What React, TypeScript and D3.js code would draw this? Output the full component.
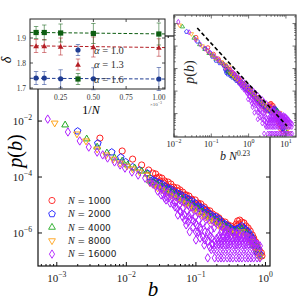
import * as d3 from "d3";

type Pt = [number, number];

const SERIF = "'Liberation Serif', 'DejaVu Serif', serif";
const SANS = "'DejaVu Sans', sans-serif";

// system sizes, colours and marker shapes of the main panel
const sizes = [1000, 2000, 4000, 8000, 16000];
const sizeColors = ["#ff2020", "#2424ff", "#22aa22", "#ffa31a", "#b020ff"];
const sizeShapes = ["circle", "pentagon", "triUp", "triDown", "thinDiamond"];

// main panel: [log10 b, log10 p(b)]
const pN1000: Pt[] = [
  [-2.38, -2.61], [-2.06, -3.07], [-1.91, -3.36], [-1.78, -3.57], [-1.68, -3.75],
  [-1.62, -3.86], [-1.58, -3.89], [-1.53, -4.0], [-1.49, -4.04], [-1.45, -4.14], [-1.4, -4.18],
  [-1.36, -4.25], [-1.32, -4.36], [-1.27, -4.39], [-1.23, -4.46], [-1.19, -4.54], [-1.14, -4.64],
  [-1.1, -4.68], [-1.06, -4.79], [-1.01, -4.82], [-0.97, -4.93], [-0.93, -4.96], [-0.88, -5.07],
  [-0.84, -5.18], [-0.8, -5.21], [-0.76, -5.32], [-0.71, -5.39], [-0.67, -5.46], [-0.63, -5.57],
  [-0.58, -5.61], [-0.54, -5.71], [-0.5, -5.75], [-0.45, -5.82], [-0.42, -5.68], [-0.4, -5.57],
  [-0.37, -5.54], [-0.34, -5.61], [-0.31, -5.64], [-0.28, -5.75], [-0.25, -5.82], [-0.22, -5.93],
  [-0.19, -6.07], [-0.17, -6.18], [-0.14, -6.32], [-0.12, -6.46], [-0.09, -6.61], [-0.06, -6.71],
  [-0.05, -6.82],
  [-1.52, -4.14], [-1.42, -4.32], [-1.32, -4.46], [-1.22, -4.61], [-1.11, -4.79], [-1.01, -4.96],
  [-0.91, -5.11], [-0.81, -5.29], [-0.71, -5.5], [-0.61, -5.68], [-0.51, -5.86], [-0.41, -5.75],
  [-0.31, -5.82], [-0.22, -6.14], [-0.15, -6.5], [-0.18, -6.39],
  [-1.56, -4.04], [-1.46, -4.21], [-1.36, -4.36], [-1.26, -4.5], [-1.16, -4.64], [-1.06, -4.82],
  [-0.96, -5.0], [-0.86, -5.18], [-0.76, -5.39], [-0.65, -5.57], [-0.55, -5.75], [-0.45, -5.89],
  [-0.38, -5.68], [-0.28, -5.93], [-0.19, -6.25], [-0.11, -6.71]
];

const pN2000: Pt[] = [
  [-2.7, -2.36], [-2.41, -2.79], [-2.21, -3.11], [-2.08, -3.29], [-2.01, -3.46], [-1.91, -3.64],
  [-1.81, -3.75], [-1.7, -3.86],
  [-1.66, -4.04], [-1.62, -4.11], [-1.58, -4.14], [-1.53, -4.21], [-1.49, -4.25], [-1.45, -4.32],
  [-1.4, -4.39], [-1.36, -4.43], [-1.32, -4.5], [-1.27, -4.57], [-1.23, -4.61], [-1.19, -4.68],
  [-1.14, -4.75], [-1.1, -4.79], [-1.06, -4.86], [-1.01, -4.93], [-0.97, -5.04], [-0.93, -5.07],
  [-0.88, -5.14], [-0.84, -5.25], [-0.8, -5.32], [-0.76, -5.39], [-0.71, -5.43], [-0.67, -5.5],
  [-0.63, -5.61], [-0.58, -5.68], [-0.54, -5.75], [-0.5, -5.82], [-0.45, -5.89], [-0.41, -5.86],
  [-0.37, -5.79], [-0.34, -5.75], [-0.31, -5.82], [-0.28, -5.89], [-0.25, -5.96], [-0.22, -6.07],
  [-0.19, -6.18], [-0.17, -6.32], [-0.14, -6.46], [-0.11, -6.61], [-0.08, -6.75],
  [-1.59, -4.25], [-1.47, -4.39], [-1.36, -4.54], [-1.24, -4.71], [-1.13, -4.89], [-1.01, -5.07],
  [-0.9, -5.25], [-0.78, -5.43], [-0.67, -5.61], [-0.55, -5.82], [-0.44, -5.96], [-0.32, -5.93],
  [-0.21, -6.25], [-0.12, -6.68],
  [-1.63, -4.18], [-1.52, -4.32], [-1.4, -4.46], [-1.29, -4.64], [-1.17, -4.82], [-1.06, -4.96],
  [-0.94, -5.14], [-0.83, -5.36], [-0.71, -5.54], [-0.6, -5.71], [-0.48, -5.89], [-0.38, -5.82],
  [-0.27, -6.04], [-0.18, -6.43]
];

const pN4000: Pt[] = [
  [-2.88, -2.14], [-2.57, -2.64], [-2.42, -2.93], [-2.28, -3.14], [-2.17, -3.32], [-2.06, -3.43],
  [-1.98, -3.57], [-1.88, -3.68], [-1.78, -3.79], [-1.7, -3.89],
  [-1.66, -4.14], [-1.6, -4.21], [-1.55, -4.29], [-1.49, -4.36], [-1.43, -4.46], [-1.37, -4.54],
  [-1.32, -4.61], [-1.26, -4.71], [-1.2, -4.79], [-1.14, -4.89], [-1.09, -4.96], [-1.03, -5.07],
  [-0.97, -5.14], [-0.91, -5.25], [-0.86, -5.36], [-0.8, -5.43], [-0.74, -5.54], [-0.68, -5.61],
  [-0.63, -5.71], [-0.57, -5.79], [-0.51, -5.86], [-0.45, -5.96], [-0.4, -5.93], [-0.34, -5.86],
  [-0.28, -6.0], [-0.22, -6.18], [-0.17, -6.43], [-0.12, -6.61], [-0.08, -6.82], [-0.19, -6.29],
  [-0.11, -6.5]
];

const pN8000: Pt[] = [
  [-3.03, -2.07], [-2.71, -2.46], [-2.58, -2.71], [-2.42, -3.0], [-2.29, -3.21], [-2.19, -3.36],
  [-2.09, -3.5], [-1.99, -3.61], [-1.91, -3.71], [-1.81, -3.82], [-1.7, -3.93],
  [-1.66, -4.21], [-1.6, -4.29], [-1.55, -4.39], [-1.49, -4.46], [-1.43, -4.54], [-1.37, -4.64],
  [-1.32, -4.71], [-1.26, -4.79], [-1.2, -4.89], [-1.14, -4.96], [-1.09, -5.07], [-1.03, -5.14],
  [-0.97, -5.25], [-0.91, -5.36], [-0.86, -5.43], [-0.8, -5.54], [-0.74, -5.61], [-0.68, -5.71],
  [-0.63, -5.79], [-0.57, -5.89], [-0.51, -5.96], [-0.45, -6.04], [-0.4, -6.04], [-0.34, -5.96],
  [-0.28, -6.11], [-0.22, -6.29], [-0.17, -6.5], [-0.12, -6.68], [-0.08, -6.86]
];

const pN16000: Pt[] = [
  [-3.13, -1.93], [-2.84, -2.39], [-2.67, -2.71], [-2.54, -2.93], [-2.42, -3.11], [-2.34, -3.21],
  [-2.27, -3.32], [-2.17, -3.46], [-2.09, -3.57], [-2.02, -3.68], [-1.92, -3.82], [-1.83, -3.93],
  [-1.73, -4.04], [-1.66, -4.18],
  [-1.62, -4.25], [-1.58, -4.32], [-1.52, -4.39], [-1.46, -4.46], [-1.4, -4.54], [-1.35, -4.64],
  [-1.29, -4.71], [-1.23, -4.82], [-1.17, -4.89], [-1.11, -5.0], [-1.06, -5.07], [-1.0, -5.18],
  [-0.94, -5.29], [-0.88, -5.36], [-0.83, -5.46], [-0.77, -5.54], [-0.71, -5.64], [-0.65, -5.71],
  [-0.6, -5.82], [-0.54, -5.89], [-0.48, -5.96], [-0.42, -6.04], [-0.37, -6.04], [-0.31, -6.07],
  [-0.25, -6.14], [-0.19, -6.25], [-0.14, -6.36], [-0.08, -6.46]
];

// the wide low-count spread of N = 16000
const pN16000Spread: Pt[] = [
  [-1.55, -4.5], [-1.47, -4.61], [-1.42, -4.71], [-1.36, -4.79], [-1.3, -4.89], [-1.24, -5.0],
  [-1.19, -5.11], [-1.13, -5.21], [-1.07, -5.32], [-1.01, -5.43], [-0.96, -5.54], [-0.9, -5.64],
  [-0.84, -5.75],
  [-1.37, -4.93], [-1.3, -5.07], [-1.23, -5.21], [-1.16, -5.36], [-1.09, -5.5], [-1.01, -5.64],
  [-0.94, -5.82], [-0.87, -5.96], [-0.8, -6.11],
  [-1.19, -5.43], [-1.11, -5.61], [-1.04, -5.79], [-0.97, -5.96], [-0.9, -6.14], [-0.83, -6.29],
  [-0.77, -6.39], [-1.09, -5.96], [-0.94, -6.18], [-0.8, -6.5], [-1.14, -5.71], [-1.0, -6.25],
  [-1.5, -4.64], [-1.45, -4.75], [-1.33, -4.96], [-1.27, -5.11], [-1.22, -5.25], [-1.16, -5.54],
  [-1.1, -5.39], [-1.04, -5.57], [-0.99, -5.71], [-0.93, -5.89], [-0.87, -6.25], [-0.83, -6.0],
  [-0.78, -5.89], [-0.74, -5.82], [-0.77, -6.18], [-1.0, -5.96], [-0.88, -6.43], [-1.26, -5.36],
  [-1.43, -4.82],
  [-0.83, -6.89], [-0.73, -6.89], [-0.68, -6.89], [-0.64, -6.89], [-0.6, -6.89], [-0.55, -6.89],
  [-0.51, -6.89], [-0.47, -6.89], [-0.42, -6.89], [-0.38, -6.89], [-0.34, -6.89], [-0.29, -6.89],
  [-0.25, -6.89], [-0.21, -6.89], [-0.17, -6.89], [-0.12, -6.89], [-0.08, -6.89],
  [-0.78, -6.59], [-0.74, -6.59], [-0.7, -6.59], [-0.65, -6.59], [-0.61, -6.59], [-0.57, -6.59],
  [-0.53, -6.59], [-0.48, -6.59], [-0.44, -6.59], [-0.4, -6.59], [-0.35, -6.59], [-0.31, -6.59],
  [-0.27, -6.59], [-0.22, -6.59], [-0.18, -6.59], [-0.14, -6.59], [-0.09, -6.59],
  [-0.76, -6.41], [-0.71, -6.41], [-0.67, -6.41], [-0.63, -6.41], [-0.58, -6.41], [-0.54, -6.41],
  [-0.5, -6.41], [-0.45, -6.41], [-0.41, -6.41], [-0.37, -6.41], [-0.32, -6.41], [-0.28, -6.41],
  [-0.24, -6.41], [-0.19, -6.41], [-0.15, -6.41], [-0.11, -6.41],
  [-0.73, -6.29], [-0.68, -6.29], [-0.64, -6.29], [-0.6, -6.29], [-0.55, -6.29], [-0.51, -6.29],
  [-0.47, -6.29], [-0.42, -6.29], [-0.38, -6.29], [-0.34, -6.29], [-0.29, -6.29], [-0.25, -6.29],
  [-0.21, -6.29], [-0.17, -6.29],
  [-0.7, -6.19], [-0.65, -6.19], [-0.61, -6.19], [-0.57, -6.19], [-0.53, -6.19], [-0.48, -6.19],
  [-0.44, -6.19], [-0.4, -6.19], [-0.35, -6.19], [-0.31, -6.19], [-0.27, -6.19], [-0.22, -6.19],
  [-0.67, -6.11], [-0.61, -6.11], [-0.55, -6.11], [-0.5, -6.11], [-0.44, -6.11], [-0.38, -6.11],
  [-0.32, -6.11], [-0.27, -6.11],
  [-0.64, -5.99], [-0.58, -5.99], [-0.53, -5.99], [-0.47, -5.99], [-0.41, -5.99],
  [-0.63, -5.89], [-0.57, -5.89]
];

const mainSeries: Pt[][] = [pN1000, pN2000, pN4000, pN8000, pN16000.concat(pN16000Spread)];

// inset top left: delta against 1/N (in units of 1e-3)
const invN = [0.0625, 0.125, 0.25, 0.5, 1.0];
const alphaLabels = ["1.0", "1.3", "1.6"];
const alphaColors = ["#1f3c92", "#b41e24", "#0e5e12"];
const deltaA10 = [1.74, 1.74, 1.737, 1.737, 1.736];
const errA10 = [0.026, 0.026, 0.036, 0.044, 0.046];
const deltaA13 = [1.868, 1.868, 1.866, 1.864, 1.862];
const errA13 = [0.026, 0.026, 0.034, 0.04, 0.035];
const deltaA16 = [1.922, 1.922, 1.92, 1.918, 1.916];
const errA16 = [0.024, 0.03, 0.036, 0.04, 0.044];
const fitIntercept = [1.739, 1.869, 1.9225];
const fitSlope = [-0.003, -0.007, -0.006];
const deltaTicks = [1.7, 1.8, 1.9];
const invNTicks = [0.25, 0.5, 0.75, 1.0];

// inset top right: collapse with b N^0.23
const collapseExp = 0.23;
const collapseFactor = 1.9;
const guideB = [0.042, 10.7];
const guideP = [6.3e-3, 2.8e-7];

function polygon(n: number, r: number, rot: number) {
  const pts = d3.range(n).map(i => {
    const a = rot + (i * 2 * Math.PI) / n;
    return `${(r * Math.cos(a)).toFixed(2)},${(r * Math.sin(a)).toFixed(2)}`;
  });
  return "M" + pts.join("L") + "Z";
}

function markerPath(kind: string, s: number) {
  if (kind === "circle") return d3.symbol(d3.symbolCircle, Math.PI * (3.1 * s) ** 2)() || "";
  if (kind === "pentagon") return polygon(5, 3.5 * s, -Math.PI / 2);
  if (kind === "triUp") return polygon(3, 3.9 * s, -Math.PI / 2);
  if (kind === "triDown") return polygon(3, 3.9 * s, Math.PI / 2);
  return `M0,${-4.2 * s}L${2.6 * s},0L0,${4.2 * s}L${-2.6 * s},0Z`;
}

function Pow({ x, y, e, size, anchor = "middle" }: { x: number; y: number; e: number; size: number; anchor?: string }) {
  return (
    <text x={x} y={y} fontSize={size} textAnchor={anchor} fontFamily={SERIF} fill="#222">
      10<tspan dy={-size * 0.42} fontSize={size * 0.7}>{e < 0 ? "\u2212" + -e : String(e)}</tspan>
    </text>
  );
}

const isDecade = (t: number) => Math.abs(Math.log10(t) - Math.round(Math.log10(t))) < 1e-6;

export default function App() {
  // main axes
  const m = { l: 38, r: 270, t: 36, b: 266 };
  const x = d3.scaleLog().domain([10 ** -3.27, 10 ** 0.065]).range([m.l, m.r]);
  const y = d3.scaleLog().domain([10 ** -7.18, 10 ** 1.04]).range([m.b, m.t]);
  const xTicks = x.ticks();
  const yMajor = [-6, -4, -2, 0];

  // inset 1
  const a = { l: 30, r: 165, t: 19, b: 89 };
  const ax = d3.scaleLinear().domain([0.016, 1.047]).range([a.l, a.r]);
  const ay = d3.scaleLinear().domain([1.696, 1.976]).range([a.b, a.t]);
  const deltas = [deltaA10, deltaA13, deltaA16];
  const errs = [errA10, errA13, errA16];

  // inset 2
  const c = { l: 174, r: 296, t: 15, b: 137 };
  const cx = d3.scaleLog().domain([1e-2, 10 ** 1.27]).range([c.l, c.r]);
  const cy = d3.scaleLog().domain([10 ** -7.04, 10 ** -1.62]).range([c.b, c.t]);
  const cxTicks = cx.ticks();
  const cyTicks = cy.ticks();

  const aMarker = (k: number, px: number, py: number, col: string) => {
    if (k === 0) return <circle cx={px} cy={py} r={2.6} fill={col} />;
    if (k === 1) return <path d={polygon(3, 3.3, -Math.PI / 2)} transform={`translate(${px},${py + 0.6})`} fill={col} />;
    return <rect x={px - 2.6} y={py - 2.6} width={5.2} height={5.2} fill={col} />;
  };

  const errBar = (px: number, y0: number, y1: number, col: string, key: string) => (
    <g key={key} stroke={col} strokeOpacity={0.6} strokeWidth={0.9}>
      <line x1={px} x2={px} y1={y0} y2={y1} />
      <line x1={px - 2.2} x2={px + 2.2} y1={y0} y2={y0} />
      <line x1={px - 2.2} x2={px + 2.2} y1={y1} y2={y1} />
    </g>
  );

  return (
    <svg width={300} height={300} style={{ display: "block", position: "absolute", left: 0, top: 0 }}>
      <defs>
        <clipPath id="clipMain"><rect x={m.l} y={m.t} width={m.r - m.l} height={m.b - m.t} /></clipPath>
        <clipPath id="clipC"><rect x={c.l} y={c.t} width={c.r - c.l} height={c.b - c.t} /></clipPath>
      </defs>
      <rect width={300} height={300} fill="#fff" />

      {/* main data */}
      <g clipPath="url(#clipMain)">
        {mainSeries.map((pts, si) => {
          const d = markerPath(sizeShapes[si], 1);
          return (
            <g key={si} fill="none" stroke={sizeColors[si]} strokeWidth={1}>
              {pts.map(([lb, lp], i) => (
                <path key={i} d={d} transform={`translate(${x(10 ** lb).toFixed(2)},${y(10 ** lp).toFixed(2)})`} />
              ))}
            </g>
          );
        })}
      </g>

      {/* main frame and ticks */}
      <g stroke="#111" strokeWidth={1}>
        {xTicks.map((t, i) => {
          const len = isDecade(t) ? 4 : 2;
          const px = x(t);
          return (
            <g key={i}>
              <line x1={px} x2={px} y1={m.b} y2={m.b - len} />
              <line x1={px} x2={px} y1={m.t} y2={m.t + len} />
            </g>
          );
        })}
        {yMajor.map(e => (
          <g key={e}>
            <line x1={m.l} x2={m.l + 4} y1={y(10 ** e)} y2={y(10 ** e)} />
            <line x1={m.r} x2={m.r - 4} y1={y(10 ** e)} y2={y(10 ** e)} />
          </g>
        ))}
        <rect x={m.l} y={m.t} width={m.r - m.l} height={m.b - m.t} fill="none" strokeWidth={1.2} />
      </g>
      {xTicks.filter(isDecade).map(t => (
        <Pow key={t} x={x(t)} y={282} e={Math.round(Math.log10(t))} size={11} />
      ))}
      {yMajor.filter(e => e < 0).map(e => (
        <Pow key={e} x={32} y={y(10 ** e) + 4} e={e} size={11} anchor="end" />
      ))}
      <text x={153} y={296} fontSize={21} fontStyle="italic" fontFamily={SERIF} textAnchor="middle">b</text>
      <text transform={`translate(22,151) rotate(-90)`} fontSize={20} fontFamily={SERIF} textAnchor="middle">
        <tspan fontStyle="italic">p</tspan>(<tspan fontStyle="italic">b</tspan>)
      </text>

      {/* main legend */}
      {sizes.map((n, i) => {
        const ly = 200.5 + i * 13.4;
        return (
          <g key={n}>
            <path d={markerPath(sizeShapes[i], 1)} transform={`translate(52,${ly})`} fill="none" stroke={sizeColors[i]} strokeWidth={0.9} />
            <text x={68} y={ly + 3.2} fontSize={9} fill="#222">
              <tspan fontFamily={SERIF} fontStyle="italic" fontSize={10}>N</tspan>
              <tspan fontFamily={SANS}> = {n}</tspan>
            </text>
          </g>
        );
      })}

      {/* inset 1 */}
      <rect x={a.l} y={a.t} width={a.r - a.l} height={a.b - a.t} fill="#fff" />
      {fitIntercept.map((b0, k) => (
        <line key={k} x1={ax(ax.domain()[0])} x2={ax(ax.domain()[1])}
          y1={ay(b0 + fitSlope[k] * ax.domain()[0])} y2={ay(b0 + fitSlope[k] * ax.domain()[1])}
          stroke={alphaColors[k]} strokeWidth={1} strokeDasharray="3.5,2" />
      ))}
      {deltas.map((ds, k) => (
        <g key={k}>
          {ds.map((d, i) => errBar(ax(invN[i]), ay(d - errs[k][i]), ay(d + errs[k][i]), alphaColors[k], `${k}-${i}`))}
          {ds.map((d, i) => <g key={i}>{aMarker(k, ax(invN[i]), ay(d), alphaColors[k])}</g>)}
        </g>
      ))}
      {alphaLabels.map((lab, k) => {
        const ly = 50 + k * 14.5;
        return (
          <g key={lab}>
            {errBar(78, ly - 5.5, ly + 5.5, alphaColors[k], "leg" + k)}
            {aMarker(k, 78, ly, alphaColors[k])}
            <text x={94} y={ly + 3.5} fontSize={10.5} fontFamily={SERIF} fill="#333">
              <tspan fontStyle="italic">{"\u03b1"}</tspan> = {lab}
            </text>
          </g>
        );
      })}
      <g stroke="#222" strokeWidth={0.8}>
        {invNTicks.map(t => (
          <g key={t}>
            <line x1={ax(t)} x2={ax(t)} y1={a.b} y2={a.b - 3} />
            <line x1={ax(t)} x2={ax(t)} y1={a.t} y2={a.t + 3} />
          </g>
        ))}
        {deltaTicks.map(t => (
          <g key={t}>
            <line x1={a.l} x2={a.l + 3} y1={ay(t)} y2={ay(t)} />
            <line x1={a.r} x2={a.r - 3} y1={ay(t)} y2={ay(t)} />
          </g>
        ))}
        <rect x={a.l} y={a.t} width={a.r - a.l} height={a.b - a.t} fill="none" strokeWidth={1} />
      </g>
      {invNTicks.map(t => (
        <text key={t} x={ax(t)} y={100} fontSize={7.5} fontFamily={SERIF} textAnchor="middle" fill="#333">{t.toFixed(2)}</text>
      ))}
      {deltaTicks.map(t => (
        <text key={t} x={26} y={ay(t) + 2.6} fontSize={7.5} fontFamily={SERIF} textAnchor="end" fill="#333">{t.toFixed(1)}</text>
      ))}
      <text x={150} y={106} fontSize={5} fontFamily={SERIF} fill="#555">
        {"\u00d7"}10<tspan dy={-2} fontSize={3.8}>{"\u22123"}</tspan>
      </text>
      <text x={91} y={114} fontSize={12} fontFamily={SERIF} textAnchor="middle">
        1/<tspan fontStyle="italic">N</tspan>
      </text>
      <text transform="translate(11,60) rotate(-90)" fontSize={14} fontStyle="italic" fontFamily={SERIF} textAnchor="middle">{"\u03b4"}</text>

      {/* inset 2 */}
      <rect x={c.l} y={c.t} width={c.r - c.l} height={c.b - c.t} fill="#fff" />
      <g clipPath="url(#clipC)">
        {mainSeries.map((pts, si) => {
          const d = markerPath(sizeShapes[si], 0.62);
          const shift = sizes[si] ** collapseExp * collapseFactor;
          return (
            <g key={si} fill="none" stroke={sizeColors[si]} strokeWidth={0.8}>
              {pts.map(([lb, lp], i) => (
                <path key={i} d={d} transform={`translate(${cx(10 ** lb * shift).toFixed(2)},${cy(10 ** lp).toFixed(2)})`} />
              ))}
            </g>
          );
        })}
        <line x1={cx(guideB[0])} y1={cy(guideP[0])} x2={cx(guideB[1])} y2={cy(guideP[1])}
          stroke="#000" strokeWidth={1.6} strokeDasharray="4,2.5" />
      </g>
      <g stroke="#333" strokeWidth={0.7}>
        {cxTicks.map((t, i) => {
          const len = isDecade(t) ? 3.5 : 1.8;
          return (
            <g key={i}>
              <line x1={cx(t)} x2={cx(t)} y1={c.b} y2={c.b - len} />
              <line x1={cx(t)} x2={cx(t)} y1={c.t} y2={c.t + len} />
            </g>
          );
        })}
        {cyTicks.map((t, i) => {
          const len = isDecade(t) ? 3.5 : 1.8;
          return (
            <g key={i}>
              <line x1={c.l} x2={c.l + len} y1={cy(t)} y2={cy(t)} />
              <line x1={c.r} x2={c.r - len} y1={cy(t)} y2={cy(t)} />
            </g>
          );
        })}
        <rect x={c.l} y={c.t} width={c.r - c.l} height={c.b - c.t} fill="none" strokeWidth={1.1} />
      </g>
      {cxTicks.filter(isDecade).map(t => (
        <Pow key={t} x={cx(t)} y={147} e={Math.round(Math.log10(t))} size={8.5} />
      ))}
      <text x={235} y={160} fontSize={12} fontFamily={SERIF} textAnchor="middle" fill="#222">
        <tspan fontStyle="italic">b N</tspan><tspan dy={-4} fontSize={7.5}>0.23</tspan>
      </text>
      <text transform="translate(194,72) rotate(-90)" fontSize={14} fontFamily={SERIF} textAnchor="middle" fill="#222">
        <tspan fontStyle="italic">p</tspan>(<tspan fontStyle="italic">b</tspan>)
      </text>
    </svg>
  );
}
